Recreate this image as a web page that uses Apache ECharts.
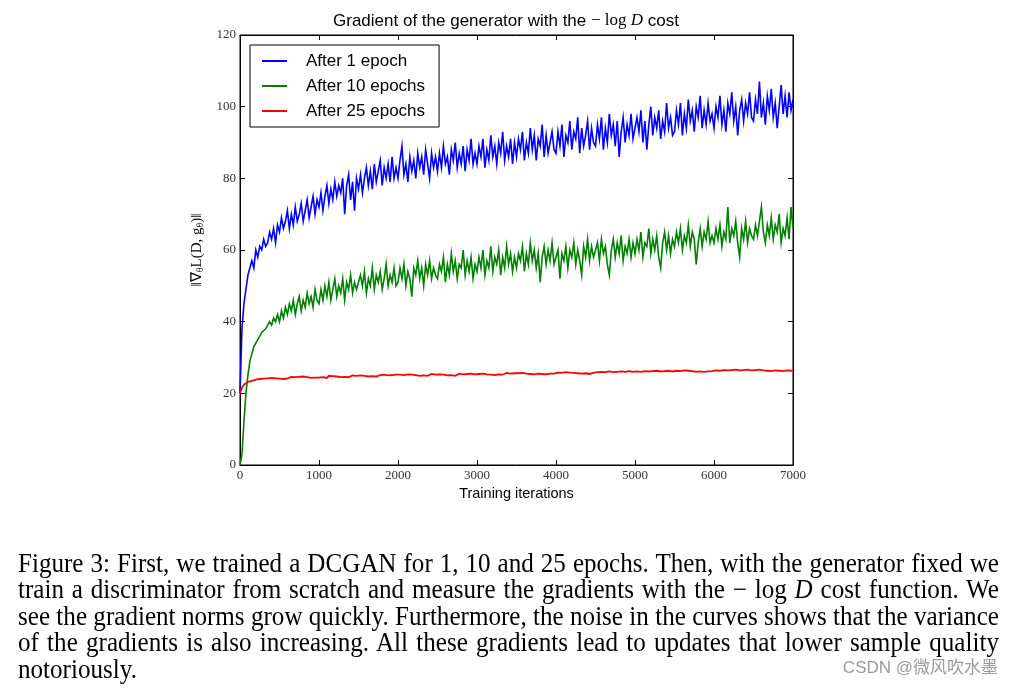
<!DOCTYPE html>
<html>
<head>
<meta charset="utf-8">
<script src="https://cdn.jsdelivr.net/npm/echarts@6/dist/echarts.min.js"></script>
<style>
  html, body { margin:0; padding:0; background:#fff; }
  #chart { position:absolute; left:0; top:0; width:1013px; height:688px; }
  .cap { position:absolute; left:18px; font-family:"Liberation Serif","Times New Roman",serif; font-size:27px; line-height:26.5px; color:#000; transform-origin:0 0; }
</style>
</head>
<body>
<div id="chart"></div>
<div id="caption"></div>
<script>
// ---------------- data ----------------
const seriesNames = ['After 1 epoch', 'After 10 epochs', 'After 25 epochs'];
const iterStep = 25; // sampling interval of the recorded curves (iterations)
const xTicks = [0, 1000, 2000, 3000, 4000, 5000, 6000, 7000];
const yTicks = [0, 20, 40, 60, 80, 100, 120];

const epoch1 = [
  20,38,45,49,53,53,57,55,60,58,61,60,63,61,62,65,63,66,62,67,
  65,69,66,68,71,66,70,67,72,68,70,73,68,71,74,69,72,75,70,74,
  72,76,71,75,78,73,77,74,79,75,78,76,80,70,78,81,74,79,71,80,
  77,81,76,80,83,78,82,77,84,79,82,85,78,83,80,84,79,86,80,83,
  80,85,89,81,84,79,86,82,85,80,87,83,86,81,88,84,80,87,83,86,
  82,87,83,89,84,86,81,88,85,90,83,87,84,89,82,88,85,91,84,87,
  84,89,86,91,83,88,85,92,86,89,84,90,87,93,85,89,86,91,84,90,
  86,91,88,93,85,90,87,94,88,92,85,91,89,95,86,92,87,90,93,88,
  87,93,89,95,86,92,90,96,88,93,91,97,87,94,89,92,96,88,94,90,
  89,95,91,97,88,94,90,98,92,95,89,96,86,93,97,90,95,92,98,91,
  91,97,93,99,90,96,88,95,100,92,97,94,99,91,96,93,101,94,97,92,
  93,99,95,101,92,98,94,102,96,99,93,100,97,103,94,99,95,101,96,98,
  94,100,97,103,95,99,93,101,98,104,96,100,92,99,102,96,101,98,104,97,
  96,102,98,107,97,101,95,103,99,105,97,101,94,100,106,98,103,97,104,99,
  102
];
const epoch10 = [
  0,3,12,20,25,29,31,33,34,35,35,37,37,38,38,40,39,41,40,42,
  40,43,41,44,42,45,43,46,42,45,47,43,46,44,48,45,47,44,49,46,
  45,49,46,50,47,51,46,49,52,47,50,48,52,46,51,49,53,48,51,49,
  49,53,50,54,48,52,50,55,49,53,51,54,49,52,56,50,53,51,55,50,
  51,55,52,56,50,54,52,47,55,53,57,52,55,50,56,53,57,52,55,53,
  52,56,54,58,51,56,53,59,54,57,52,56,55,60,53,57,54,58,52,56,
  54,58,55,60,53,57,55,61,54,58,56,60,53,58,55,61,56,59,54,58,
  55,59,57,61,54,59,56,62,57,60,55,59,51,58,61,56,60,57,62,56,
  56,60,52,59,57,61,55,60,58,62,56,60,57,53,61,58,63,57,61,58,
  58,62,57,63,59,61,56,53,60,63,58,62,59,64,57,61,59,63,58,62,
  59,63,60,65,58,62,61,66,59,63,60,64,58,55,62,65,60,64,59,63,
  61,65,62,66,60,64,62,67,61,65,63,56,62,66,61,65,63,68,62,64,
  62,66,63,67,61,65,63,72,62,66,64,68,62,58,66,63,68,62,66,64,
  63,67,64,68,72,65,62,67,64,69,63,67,65,70,62,66,64,69,63,72,
  66
];
const epoch25 = [
  20,21.6,22.4,22.9,23.2,23.4,23.5,23.7,23.8,23.7,24,23.8,24.1,23.9,24.2,24,24.3,24.1,24.2,24.4,
  24.1,24.4,24,24.5,24.2,24.3,24.6,24.1,24.5,24.3,24.6,24.2,24.7,24.4,24.5,24.8,24.3,24.6,24.4,24.7,
  24.4,24.8,24.5,24.7,24.3,24.9,24.6,24.8,24.4,24.7,25,24.5,24.8,24.6,24.9,24.5,24.8,25,24.6,24.9,
  24.7,25,24.6,24.9,25.1,24.7,25,24.8,25.2,24.7,24.9,25.1,24.8,25.2,24.9,25,24.7,25.1,24.9,25.2,
  24.8,25.2,24.9,25.1,24.7,25.3,25,25.2,24.8,25.1,25.3,24.9,25.2,25,25.3,24.9,25.1,25.4,25,25.2,
  25,25.3,24.9,25.2,25.4,25,25.3,25.1,25.4,24.9,25.2,25.5,25.1,25.3,25,25.4,25.2,25.5,25.1,25.3,
  25.1,25.4,25.2,25.5,25,25.3,25.6,25.2,25.4,25.1,25.5,25.3,25.6,25.2,25.4,25.7,25.3,25.5,25.2,25.6,
  25.3,25.6,25.4,25.7,25.2,25.5,25.8,25.4,25.6,25.3,25.7,25.5,25.8,25.4,25.6,25.3,25.7,25.5,25.9,25.5,
  25.4,25.8,25.5,25.7,25.3,25.9,25.6,25.8,25.4,25.7,26,25.6,25.8,25.5,25.9,25.6,25.8,25.4,25.9,25.7,
  25.5,25.9,25.6,26,25.7,25.9,25.5,26.1,25.8,25.9,25.6,26,25.8,26.1,25.7,26,25.8,26.2,25.7,26,
  25.7,26.1,25.8,26,25.7,26.2,25.9,26.1,25.8,26.2,25.9,26.3,25.8,26.1,25.9,26.2,26,26.3,25.9,26.1,
  25.9,26.3,26,26.2,25.9,26.4,26.1,26.3,25.9,26.2,26.4,26,26.3,26.1,26.4,26,26.3,26.1,26.5,26.2,
  26,26.4,26.1,26.3,26,26.5,26.2,26.4,26.1,26.5,26.2,26.6,26.1,26.4,26.2,26.5,26.3,26.6,26.2,26.4,
  26.1,26.5,26.3,26.6,26.2,26.4,26.7,26.3,26.5,26.2,26.6,26.4,26.7,26.3,26.5,26.2,26.6,26.4,26.7,26.3,
  26.5
];
const seriesColors = ['#0000ff', '#008000', '#ff0000'];
const seriesWidths = [1.6, 1.6, 1.8];

const captionLines = [
  'Figure 3: First, we trained a DCGAN for 1, 10 and 25 epochs. Then, with the generator fixed we',
  'train a discriminator from scratch and measure the gradients with the \u2212 log <i>D</i> cost function. We',
  'see the gradient norms grow quickly. Furthermore, the noise in the curves shows that the variance',
  'of the gradients is also increasing. All these gradients lead to updates that lower sample quality',
  'notoriously.'
];

// ---------------- chart ----------------
const toPairs = arr => arr.map((v, i) => [i * iterStep, v]);
const chart = echarts.init(document.getElementById('chart'), null, { renderer: 'canvas' });

const axisCommon = {
  type: 'value',
  axisLine: { show: true, onZero: false, lineStyle: { color: '#000', width: 1 } },
  axisTick: { show: true, inside: true, length: 5, lineStyle: { color: '#000', width: 1 } },
  splitLine: { show: false }
};
const tickLabel = { fontFamily: 'Liberation Serif', fontSize: 13, color: '#333', showMinLabel: true, showMaxLabel: true,
  formatter: v => String(v) };

const option = {
  animation: false,
  backgroundColor: '#fff',
  title: {
    text: '{a|Gradient of the generator with the }{m|\u2212 log }{i|D}{a| cost}',
    left: 333, top: 11, padding: 0,
    textStyle: {
      fontWeight: 'normal',
      rich: {
        a: { fontFamily: 'Liberation Sans', fontSize: 17, fontWeight: 'normal', color: '#000', lineHeight: 20 },
        m: { fontFamily: 'Liberation Serif', fontSize: 17, fontWeight: 'normal', color: '#000', lineHeight: 20 },
        i: { fontFamily: 'Liberation Serif', fontSize: 17, fontWeight: 'normal', fontStyle: 'italic', color: '#000', lineHeight: 20 }
      }
    }
  },
  legend: {
    orient: 'vertical', left: 250, top: 45,
    padding: [6, 14, 6, 12],
    itemGap: 5, itemWidth: 25, itemHeight: 2, icon: 'rect',
    borderColor: '#000', borderWidth: 1, borderRadius: 0, backgroundColor: '#fff',
    textStyle: { fontFamily: 'Liberation Sans', fontSize: 17, color: '#000', lineHeight: 20, padding: [0, 0, 0, 14] },
    data: seriesNames
  },
  grid: { left: 240, right: 220, top: 35, bottom: 223, show: true, borderColor: '#000', borderWidth: 1, backgroundColor: '#fff' },
  xAxis: [
    Object.assign({}, axisCommon, {
      position: 'bottom', min: xTicks[0], max: xTicks[xTicks.length - 1], interval: xTicks[1] - xTicks[0],
      axisLabel: Object.assign({ margin: 4 }, tickLabel),
      name: 'Training iterations', nameLocation: 'middle', nameGap: 17,
      nameTextStyle: { fontFamily: 'Liberation Sans', fontSize: 14.5, color: '#000' }
    }),
    Object.assign({}, axisCommon, {
      position: 'top', min: xTicks[0], max: xTicks[xTicks.length - 1], interval: xTicks[1] - xTicks[0],
      axisLabel: { show: false }
    })
  ],
  yAxis: [
    Object.assign({}, axisCommon, {
      position: 'left', min: yTicks[0], max: yTicks[yTicks.length - 1], interval: yTicks[1] - yTicks[0],
      axisLabel: Object.assign({ margin: 4 }, tickLabel),
      name: '{n|\u2016\u2207}{s|\u03b8}{n|L(D, g}{s|\u03b8}{n|)\u2016}',
      nameLocation: 'middle', nameRotate: 90, nameGap: 34,
      nameTextStyle: {
        rich: {
          n: { fontFamily: 'Liberation Serif', fontSize: 15, color: '#000', lineHeight: 18 },
          s: { fontFamily: 'Liberation Serif', fontSize: 10, color: '#000', lineHeight: 10, verticalAlign: 'bottom' }
        }
      }
    }),
    Object.assign({}, axisCommon, {
      position: 'right', min: yTicks[0], max: yTicks[yTicks.length - 1], interval: yTicks[1] - yTicks[0],
      axisLabel: { show: false }
    })
  ],
  series: [epoch1, epoch10, epoch25].map((arr, k) => ({
    name: seriesNames[k],
    type: 'line',
    xAxisIndex: 0, yAxisIndex: 0,
    data: toPairs(arr),
    showSymbol: false, symbol: 'none',
    color: seriesColors[k],
    lineStyle: { color: seriesColors[k], width: seriesWidths[k], join: 'miter' },
    itemStyle: { color: seriesColors[k] },
    emphasis: { disabled: true },
    z: 2 + k
  })),
  graphic: [{
    type: 'text', right: 15, top: 660,
    style: { text: 'CSDN @\u5fae\u98ce\u5439\u6c34\u58a8', fill: '#9a9a9a', font: '17px "Liberation Sans", "Noto Sans CJK SC", sans-serif' }
  }]
};
chart.setOption(option);

// ---------------- caption (justified paragraph) ----------------
const capHost = document.getElementById('caption');
const capWidth = 980, capTop = 549.6, capLead = 26.5;
const measures = captionLines.map(t => {
  const s = document.createElement('span');
  s.className = 'cap'; s.style.whiteSpace = 'nowrap'; s.style.visibility = 'hidden';
  s.innerHTML = t; capHost.appendChild(s);
  const w = s.getBoundingClientRect().width; capHost.removeChild(s); return w;
});
let scale = 1;
for (let i = 0; i < captionLines.length - 1; i++) scale = Math.min(scale, capWidth / measures[i]);
captionLines.forEach((t, i) => {
  const d = document.createElement('div');
  d.className = 'cap';
  d.style.top = (capTop + i * capLead) + 'px';
  d.style.transform = 'scaleX(' + scale + ')';
  if (i < captionLines.length - 1) {
    d.style.width = (capWidth / scale + 1) + 'px';
    d.style.textAlign = 'justify';
    d.style.textAlignLast = 'justify';
  } else {
    d.style.whiteSpace = 'nowrap';
  }
  d.innerHTML = t;
  capHost.appendChild(d);
});
</script>
</body>
</html>
